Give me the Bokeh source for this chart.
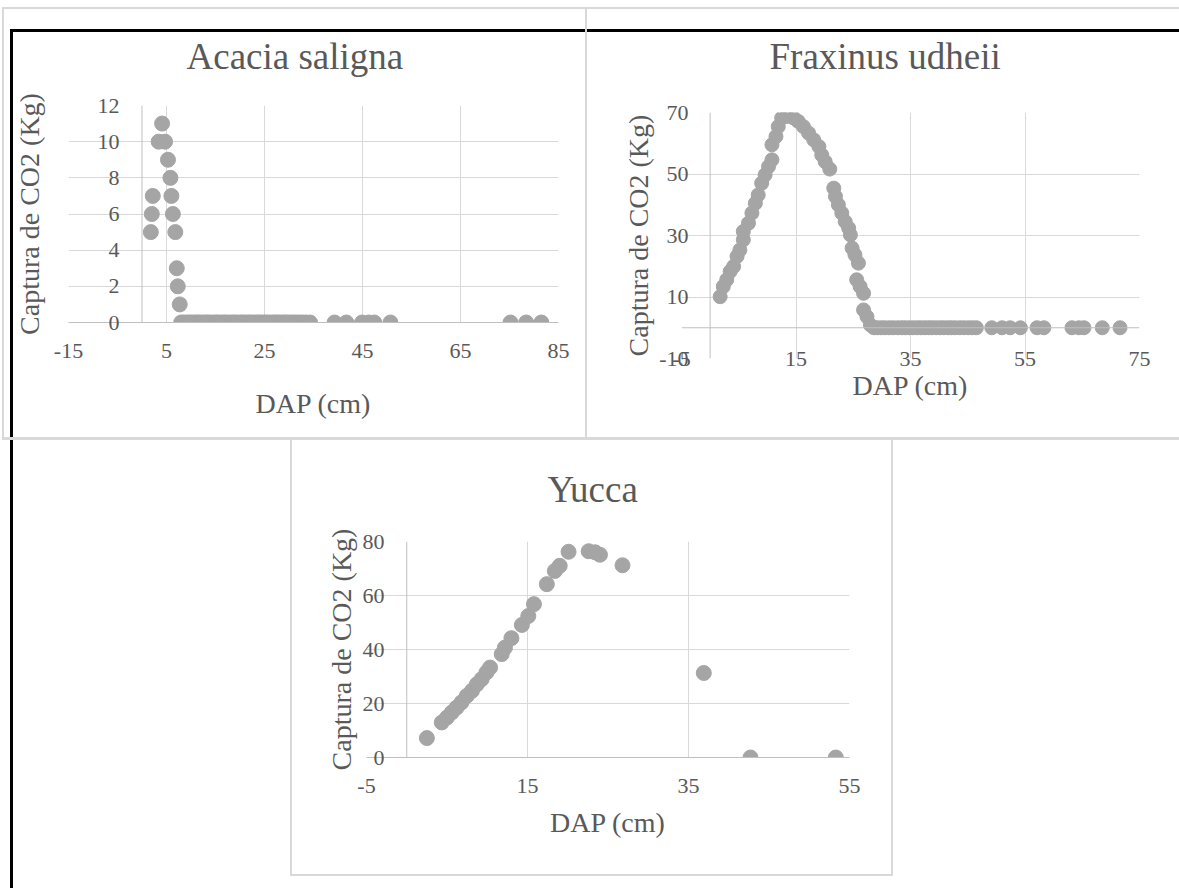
from bokeh.plotting import figure
from bokeh.models import FixedTicker, Span, Range1d, Spacer
from bokeh.layouts import column, row
from bokeh.embed import file_html
from bokeh.resources import INLINE

# ---------------- data ----------------
acacia_dap = [1.8, 2.0, 2.2, 3.4, 4.7, 4.1, 5.3, 5.8, 6.0, 6.3, 6.8, 7.1, 7.3, 7.7,
              8.0, 8.5, 9.1, 9.6, 10.0, 10.6, 11.1, 11.5, 12.0, 12.6, 13.1, 13.5, 14.0,
              14.6, 15.1, 15.5, 16.0, 16.6, 17.0, 17.5, 18.1, 18.6, 19.0, 19.5, 20.1,
              20.5, 21.0, 21.6, 22.0, 22.5, 23.1, 23.6, 24.0, 24.5, 25.1, 25.5, 26.0,
              26.6, 27.1, 27.5, 28.0, 28.6, 29.1, 29.5, 30.0, 30.6, 31.1, 31.6, 32.2,
              32.8, 33.5, 34.3, 39.3, 41.7, 44.9, 46.3, 47.4, 50.7, 75.2, 78.4, 81.5]
acacia_co2 = [5, 6, 7, 10, 10, 11, 9, 8, 7, 6, 5, 3, 2, 1,
              0, 0, 0, 0, 0, 0, 0, 0, 0, 0, 0, 0, 0,
              0, 0, 0, 0, 0, 0, 0, 0, 0, 0, 0, 0,
              0, 0, 0, 0, 0, 0, 0, 0, 0, 0, 0, 0,
              0, 0, 0, 0, 0, 0, 0, 0, 0, 0, 0, 0,
              0, 0, 0, 0, 0, 0, 0, 0, 0, 0, 0, 0]

fraxinus_dap = [1.75, 2.3, 2.9, 3.5, 4.1, 4.7, 5.2, 5.8, 5.8, 6.7, 7.3, 7.9, 8.4, 9.0,
                9.6, 10.2, 10.8, 10.8, 11.5, 11.9, 12.5, 13.4, 14.6, 15.4, 16.3, 17.2,
                18.1, 19.0, 19.5, 20.1, 20.9, 21.6, 21.9, 22.4, 23.0, 23.6, 24.2, 24.5,
                24.8, 25.3, 25.9, 25.6, 26.2, 26.8, 26.8, 27.4, 28.0,
                28.6, 29.2, 29.9, 30.5, 31.3, 32.0, 32.8, 33.5, 34.1, 34.8, 35.5, 36.2,
                36.8, 37.5, 38.2, 38.8, 39.5, 40.2, 40.8, 41.5, 42.1, 42.8, 43.6, 44.3,
                45.1, 45.8, 46.5, 49.2, 51.0, 52.4, 54.2, 57.1, 58.3, 63.2, 64.4, 65.3,
                68.5, 71.6]
fraxinus_co2 = [10.1, 13.4, 15.6, 18.3, 19.9, 23.2, 25.3, 28.6, 31.3, 34.0, 37.3, 40.5,
                43.2, 47.0, 49.7, 52.4, 54.6, 59.5, 62.2, 65.4, 68.2, 68.7, 68.2, 67.1,
                65.4, 63.3, 61.1, 58.9, 56.2, 54.0, 51.6, 45.4, 42.7, 40.0, 37.3, 34.5,
                32.4, 30.2, 25.9, 23.7, 21.0, 15.6, 13.4, 11.2, 5.8, 3.6, 0.9,
                0, 0, 0, 0, 0, 0, 0, 0, 0, 0, 0, 0,
                0, 0, 0, 0, 0, 0, 0, 0, 0, 0, 0, 0,
                0, 0, 0, 0, 0, 0, 0, 0, 0, 0, 0, 0,
                0, 0]

yucca_dap = [2.5, 4.35, 5.0, 5.6, 6.2, 6.8, 7.45, 8.1, 8.7, 9.3, 9.9, 10.35, 11.8, 12.2,
             13.0, 14.3, 15.1, 15.8, 17.4, 18.4, 19.0, 20.1, 22.6, 23.4, 24.0, 26.8,
             36.9, 42.7, 53.3]
yucca_co2 = [7.2, 13.0, 14.8, 16.7, 18.5, 20.4, 22.8, 24.7, 27.1, 29.0, 31.5, 33.3, 38.3,
             40.7, 44.2, 49.1, 52.4, 56.8, 64.2, 69.1, 71.0, 76.2, 76.4, 76.0, 75.1, 71.2,
             31.3, 0, 0]

acacia_xticks = [-15, 5, 25, 45, 65, 85]
acacia_yticks = [0, 2, 4, 6, 8, 10, 12]
fraxinus_xticks = [-5, 15, 35, 55, 75]
fraxinus_yticks = [-10, 10, 30, 50, 70]
yucca_xticks = [-5, 15, 35, 55]
yucca_yticks = [0, 20, 40, 60, 80]

titles = ["Acacia saligna", "Fraxinus udheii", "Yucca"]
x_title = "DAP (cm)"
y_title = "Captura de CO2 (Kg)"

FONT = "Liberation Serif"
TXT = "#595959"
GRID = "#d9d9d9"
AXIS = "#bfbfbf"
DOT = "#a5a5a5"


def hyphen_labels(ticks):
    # Excel writes negative numbers with a plain hyphen
    return {t: str(t) for t in ticks if t < 0}


def make_panel(title, xs, ys, xr, yr, xticks, yticks, xgrid, width, height,
               mb, t_off, t_stand, ylbl_stand, ylab_stand, xlbl_stand, xlab_stand,
               x_axis_line=True, dot=15):
    p = figure(width=width, height=height, x_range=Range1d(*xr), y_range=Range1d(*yr),
               output_backend="svg", toolbar_location=None, title=title,
               min_border_left=mb[0], min_border_right=mb[1],
               min_border_top=mb[2], min_border_bottom=mb[3])
    try:
        p.frame_align = False
    except Exception:
        pass
    p.background_fill_color = None
    p.border_fill_color = None
    p.outline_line_color = None

    t = p.title
    t.text_font = FONT
    t.text_font_style = "normal"
    t.text_font_size = "37px"
    t.text_color = TXT
    t.align = "left"
    t.offset = t_off
    t.standoff = t_stand
    t.vertical_align = "top"

    ya = p.yaxis[0]
    ya.ticker = FixedTicker(ticks=yticks)
    ya.major_label_overrides = hyphen_labels(yticks)
    ya.major_tick_out = 0
    ya.major_tick_in = 0
    ya.minor_tick_out = 0
    ya.minor_tick_in = 0
    ya.major_tick_line_color = None
    ya.minor_tick_line_color = None
    ya.axis_line_color = None
    ya.major_label_standoff = ylbl_stand
    ya.major_label_text_font = FONT
    ya.major_label_text_font_size = "22px"
    ya.major_label_text_color = TXT
    ya.axis_label = y_title
    ya.axis_label_text_font = FONT
    ya.axis_label_text_font_style = "normal"
    ya.axis_label_text_font_size = "28px"
    ya.axis_label_text_color = TXT
    ya.axis_label_standoff = ylab_stand

    xa = p.xaxis[0]
    xa.ticker = FixedTicker(ticks=xticks)
    xa.major_label_overrides = hyphen_labels(xticks)
    xa.major_tick_out = 0
    xa.major_tick_in = 0
    xa.minor_tick_out = 0
    xa.minor_tick_in = 0
    xa.major_tick_line_color = None
    xa.minor_tick_line_color = None
    xa.axis_line_color = AXIS if x_axis_line else None
    xa.major_label_standoff = xlbl_stand
    xa.major_label_text_font = FONT
    xa.major_label_text_font_size = "22px"
    xa.major_label_text_color = TXT
    xa.axis_label = x_title
    xa.axis_label_text_font = FONT
    xa.axis_label_text_font_style = "normal"
    xa.axis_label_text_font_size = "28px"
    xa.axis_label_text_color = TXT
    xa.axis_label_standoff = xlab_stand

    p.xgrid[0].ticker = FixedTicker(ticks=xgrid)
    p.ygrid[0].ticker = FixedTicker(ticks=yticks)
    for g in (p.xgrid[0], p.ygrid[0]):
        g.grid_line_color = GRID
        g.grid_line_width = 1

    # vertical value axis crosses at DAP = 0
    p.add_layout(Span(location=0, dimension="height", line_color=AXIS, line_width=1))
    if not x_axis_line:
        p.add_layout(Span(location=0, dimension="width", line_color=AXIS, line_width=1))

    p.scatter(xs, ys, size=dot, fill_color=DOT, line_color=DOT, marker="circle")
    return p


p1 = make_panel(titles[0], acacia_dap, acacia_co2, (-15, 85), (0, 12),
                acacia_xticks, acacia_yticks, acacia_xticks, 586, 438,
                (68, 28, 105, 116), 118, 54, -51, 50, 21, 27)
p2 = make_panel(titles[1], fraxinus_dap, fraxinus_co2, (-5, 75), (-10, 70),
                fraxinus_xticks, fraxinus_yticks, [15, 35, 55, 75], 593, 438,
                (95, 40, 112, 80), 88, 68, -7, 2, -7, 1, x_axis_line=False, dot=14)
p3 = make_panel(titles[2], yucca_dap, yucca_co2, (-5, 55), (0, 80),
                yucca_xticks, yucca_yticks, [15, 35, 55], 602, 450,
                (75, 44, 103, 131), 181, 59, -18, 3, 21, 11)

# frame lines of the page (left, top, width, height, colour)
page_lines = [
    (2, 7, 1177, 2, "#d9d9d9"),
    (2, 7, 2, 432, "#d9d9d9"),
    (585, 7, 2, 432, "#d9d9d9"),
    (2, 437, 1177, 3, "#d9d9d9"),
    (290, 437, 2, 439, "#d9d9d9"),
    (891, 437, 2, 439, "#d9d9d9"),
    (290, 874, 603, 2, "#d9d9d9"),
    (10, 29, 1169, 3, "#000000"),
    (10, 29, 3, 859, "#000000"),
]
bg = {
    "background-color": "white",
    "background-image": ", ".join(f"linear-gradient({c}, {c})" for *_, c in page_lines),
    "background-size": ", ".join(f"{w}px {h}px" for _, _, w, h, _ in page_lines),
    "background-position": ", ".join(f"{l}px {t}px" for l, t, _, _, _ in page_lines),
    "background-repeat": "no-repeat",
}

layout = column(row(column(p1), column(p2)),
                row(Spacer(width=291, height=450), column(p3)), styles=bg)

open("out.html", "w").write(file_html(layout, INLINE))
